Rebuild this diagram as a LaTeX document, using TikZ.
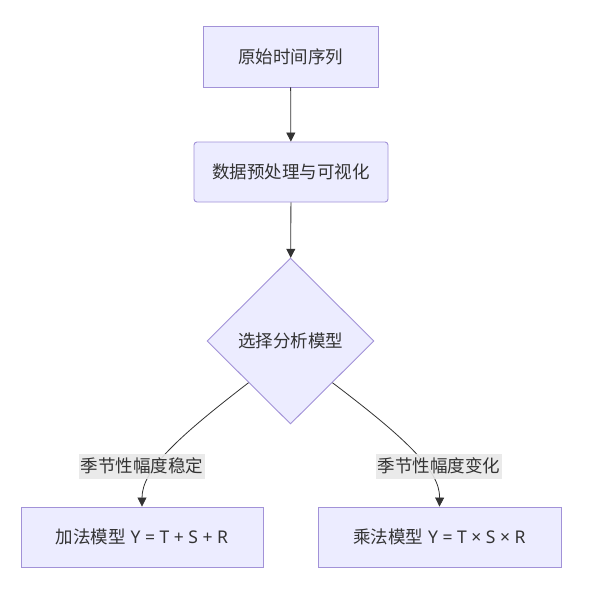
\documentclass[tikz,border=0pt]{standalone}
\usepackage{fontspec}
\setmainfont{Noto Sans CJK SC}
\newfontfamily\latinfont{Noto Sans}
\usetikzlibrary{shapes.geometric,arrows.meta}
\definecolor{nodefill}{HTML}{ECECFF}
\definecolor{nodeborder}{HTML}{A292D8}
\definecolor{edgecol}{HTML}{333333}
\definecolor{labelbg}{HTML}{E8E8E8}
\definecolor{textcol}{HTML}{333333}
\tikzset{
  box/.style={draw=nodeborder, fill=nodefill, line width=0.9pt, text=textcol, font=\fontsize{17.5pt}{20pt}\selectfont, inner sep=0pt},
  edge/.style={draw=edgecol, line width=0.8pt, -{Triangle[length=9pt,width=9pt]}},
  elabel/.style={fill=labelbg, fill opacity=0.9, text opacity=1, text=textcol, font=\fontsize{17.5pt}{20pt}\selectfont, inner sep=1.5pt, minimum height=25pt}
}
\begin{document}
\begin{tikzpicture}[x=1pt,y=-1pt]
\useasboundingbox (0,0) rectangle (596,606);
\fill[white] (0,0) rectangle (596,606);
\node[box, minimum width=175pt, minimum height=61pt] (a) at (290.5,56.5) {原始时间序列};
\node[box, rounded corners=3pt, minimum width=194pt, minimum height=60pt] (b) at (291,172) {数据预处理与可视化};
\node[box, shape=diamond, minimum width=167pt, minimum height=166pt] (c) at (290.5,341) {选择分析模型};
\node[box, minimum width=242pt, minimum height=60pt] (d) at (142,537) {加法模型{\latinfont\ Y = T + S + R}};
\node[box, minimum width=243pt, minimum height=60pt] (e) at (439.5,537) {乘法模型{\latinfont\ Y = T × S × R}};
\draw[edge] (a) -- (b);
\draw[edge] (b) -- (c);
\draw[edge] (c.south west) .. controls (178,437) and (142,470) .. (d.north);
\draw[edge] (c.south east) .. controls (404,437) and (440,470) .. (e.north);
\node[elabel] (l1) at (142,466) {季节性幅度稳定};
\node[elabel] (l2) at (439,466) {季节性幅度变化};
\end{tikzpicture}
\end{document}
